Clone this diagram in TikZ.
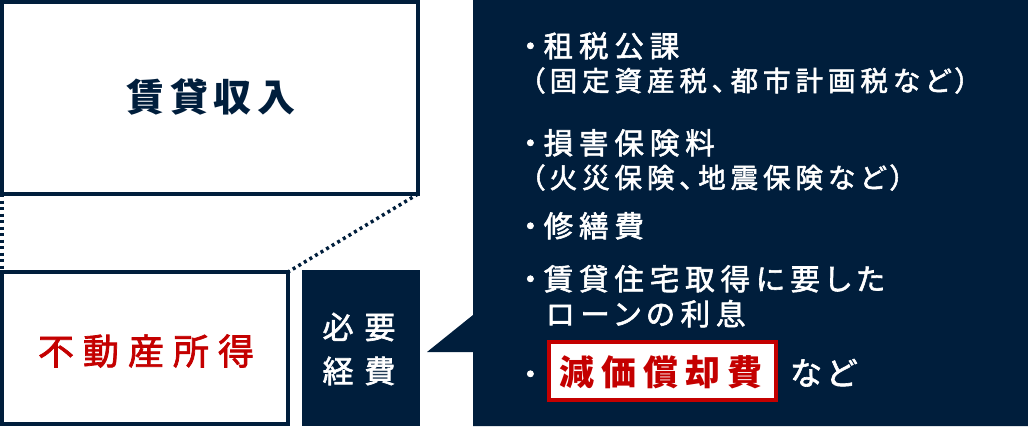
\documentclass[tikz,border=0pt]{standalone}
\usepackage{fontspec}
\setmainfont{Noto Sans CJK JP}[RawFeature=+palt]
\newfontfamily\jpmed{Noto Sans CJK JP}[RawFeature=+palt, FakeBold=2]
\definecolor{navy}{HTML}{001E3C}
\definecolor{jred}{HTML}{C40000}
\newcommand{\fs}[2]{\fontsize{#1pt}{#1pt}\selectfont\addfontfeatures{LetterSpace=#2}}
\begin{document}
\begin{tikzpicture}[x=1pt,y=-1pt,
  frame/.style={draw=navy, line width=4pt, fill=white, outer sep=0pt, inner sep=0pt},
  txt/.style={inner sep=0pt, outer sep=0pt, anchor=base west, text=white},
  dotline/.style={draw=navy, line width=3.5pt, dash pattern=on 3pt off 3.5pt}]
\useasboundingbox (0,0) rectangle (1028,426);
% left boxes
\node[frame, minimum width=416pt, minimum height=192pt] (income) at (210,98) {};
\node[inner sep=0pt, text=navy] (incomet) at (211,97) {\bfseries\fs{38}{15}賃貸収入};
\node[frame, minimum width=286pt, minimum height=152pt] (profit) at (145,348) {};
\node[inner sep=0pt, text=jred] (profitt) at (146,351) {\jpmed\fs{36}{25}不動産所得};
\node[fill=navy, inner sep=0pt, outer sep=0pt, minimum width=118pt, minimum height=156pt] (expense) at (361,348) {};
\node[inner sep=0pt, text=white, align=center, font=\jpmed\fontsize{31pt}{44pt}\selectfont] (expenset) at (359,349) {\addfontfeatures{LetterSpace=35}必要\\\addfontfeatures{LetterSpace=35}経費};
% dotted connectors
\draw[dotline] (income.south west) -- (profit.north west);
\draw[dotline] (income.south east) -- (profit.north east);
% callout
\path[fill=navy] (473,0) -| (1028,426) -| (473,352) -- (427,352) -- (473,315) -- cycle;
% list
\node[txt] (t1) at (523,57) {\jpmed\fs{29.5}{20}・租税公課};
\node[txt] (t2) at (531,91) {\jpmed\fs{27.5}{18}（固定資産税、都市計画税など）};
\node[txt] (t3) at (523,154) {\jpmed\fs{29.5}{20}・損害保険料};
\node[txt] (t4) at (531,188) {\jpmed\fs{27.5}{18}（火災保険、地震保険など）};
\node[txt] (t5) at (523,237) {\jpmed\fs{29.5}{20}・修繕費};
\node[txt] (t6) at (523,290) {\jpmed\fs{29.5}{20}・賃貸住宅取得に要した};
\node[txt] (t7) at (546,325) {\jpmed\fs{29.5}{20}ローンの利息};
\node[txt] (t8) at (523,385) {\jpmed\fs{29.5}{20}・};
\node[draw=jred, line width=4pt, fill=white, inner sep=0pt, outer sep=0pt, minimum width=227pt, minimum height=58pt] (depr) at (662.5,371) {};
\node[txt, text=jred] (deprt) at (559,385) {\bfseries\fs{35}{20}減価償却費};
\node[txt] (etc) at (790,385) {\jpmed\fs{32}{15}など};
\end{tikzpicture}
\end{document}
